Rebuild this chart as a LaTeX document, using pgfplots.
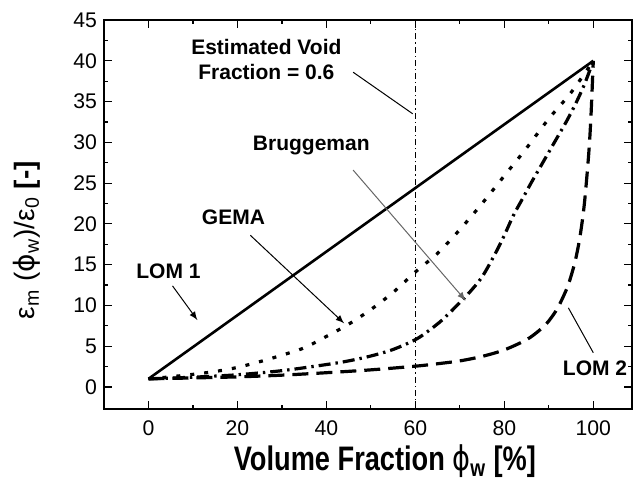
\documentclass[border=0pt]{standalone}
\usepackage{pgfplots}
\pgfplotsset{compat=1.18}
\usepackage{fontspec}
\setmainfont{Liberation Sans}
\newfontfamily\dejavu{DejaVu Sans}
\usepackage{graphicx}
\begin{document}
\begin{tikzpicture}
\begin{axis}[
  scale only axis, width=264pt, height=194.5pt,
  xmin=-10, xmax=108.7, ymin=-2.7, ymax=45,
  xtick={0,20,...,100}, minor xtick={10,30,...,90},
  ytick={0,5,...,45}, minor ytick={2.5,7.5,...,42.5},
  tick align=inside, major tick length=4pt, minor tick length=2pt,
  tick style={line width=0.6pt, black},
  axis line style={line width=0.8pt},
  ticklabel style={font=\fontsize{10.6}{12}\selectfont},
  xticklabel style={yshift=-2.5pt},
  /pgf/number format/assume math mode=true,
  xlabel={\bfseries\fontsize{17}{20}\selectfont\scalebox{0.8}[1]{Volume Fraction {\mdseries\dejavu ϕ}\textsubscript{w} [\%]}},
  xlabel style={at={(axis description cs:0.532,-0.159)}, anchor=base},
  ylabel={\fontsize{14}{16}\selectfont ε\textsubscript{m} ({\dejavu ϕ}\textsubscript{w})/ε\textsubscript{0} \textbf{[-]}},
  ylabel style={at={(axis description cs:-0.146,0.434)}, anchor=center, rotate=0},
  clip=false,
]
% vertical void-fraction line
\addplot[black, line width=0.6pt, dash pattern=on 3pt off 1.5pt on 0.6pt off 1.5pt] coordinates {(60,-2.7) (60,45)};
% LOM 1
\addplot[black, line width=1.3pt] coordinates {(0,1) (100,40)};
% GEMA (dotted)
\addplot[black, line width=1.6pt, dash pattern=on 2pt off 5pt, smooth] coordinates {
(0,1.0) (5,1.25) (10,1.55) (15,1.9) (20,2.4) (25,3.1) (30,3.9) (35,4.8) (40,6.2) (45,7.7) (50,9.5) (55,11.6) (60,14.1) (65,16.4) (70,19.3) (75,22.5) (80,25.9) (85,29.3) (90,32.9) (95,36.1) (100,40)};
% Bruggeman (dash-dot)
\addplot[black, line width=1.6pt, dash pattern=on 6pt off 2.5pt on 1.2pt off 2.5pt, smooth] coordinates {
(0,1.0) (10,1.2) (20,1.5) (30,2.0) (40,2.75) (45,3.2) (50,3.8) (55,4.6) (60,5.8) (63,6.9) (66,8.2) (69,9.8) (72,11.5) (75,13.5) (78,16.4) (80,18.6) (82,21.0) (84,23.0) (86,25.0) (88,26.9) (90,28.8) (92,30.7) (94,32.6) (96,34.7) (98,37.1) (100,40)};
% LOM 2 (dashed)
\addplot[black, line width=1.6pt, dash pattern=on 8pt off 4pt, smooth] coordinates {
(0,1.0) (10,1.11) (20,1.24) (30,1.45) (40,1.75) (50,2.1) (60,2.55) (65,2.85) (70,3.2) (75,3.75) (80,4.55) (85,5.8) (88,7.0) (90,8.1) (92,9.7) (94,12.0) (95,13.6) (96,15.6) (97,18.4) (98,22.5) (99,28.8) (99.5,33.5) (100,40)};

% annotations
\node[font=\bfseries\fontsize{10.5}{12.5}\selectfont, align=center] at (axis cs:26.5,40.1) {Estimated Void\\Fraction = 0.6};
\draw[black, line width=0.5pt] (axis cs:46,38.6) -- (axis cs:59.4,33.5);
\node[font=\bfseries\fontsize{10.5}{12.5}\selectfont] at (axis cs:36.6,29.6) {Bruggeman};
\draw[gray!80!black, line width=0.5pt, -latex] (axis cs:46,26.6) -- (axis cs:71.3,10.6);
\node[font=\bfseries\fontsize{10.5}{12.5}\selectfont] at (axis cs:19.1,20.8) {GEMA};
\draw[black, line width=0.5pt, -latex] (axis cs:22.9,18.6) -- (axis cs:44,7.8);
\node[font=\bfseries\fontsize{10.5}{12.5}\selectfont] at (axis cs:4.5,14.2) {LOM 1};
\draw[black, line width=0.5pt, -latex] (axis cs:5.4,12.4) -- (axis cs:11,8.2);
\node[font=\bfseries\fontsize{10.5}{12.5}\selectfont] at (axis cs:100.4,2.3) {LOM 2};
\draw[black, line width=0.5pt] (axis cs:100,4.2) -- (axis cs:94.4,9.7);
\end{axis}
\pgfresetboundingbox
\path (current axis.south west) ++(-52pt,-34.5pt) rectangle ++(316.5pt,239pt);
\end{tikzpicture}
\end{document}
